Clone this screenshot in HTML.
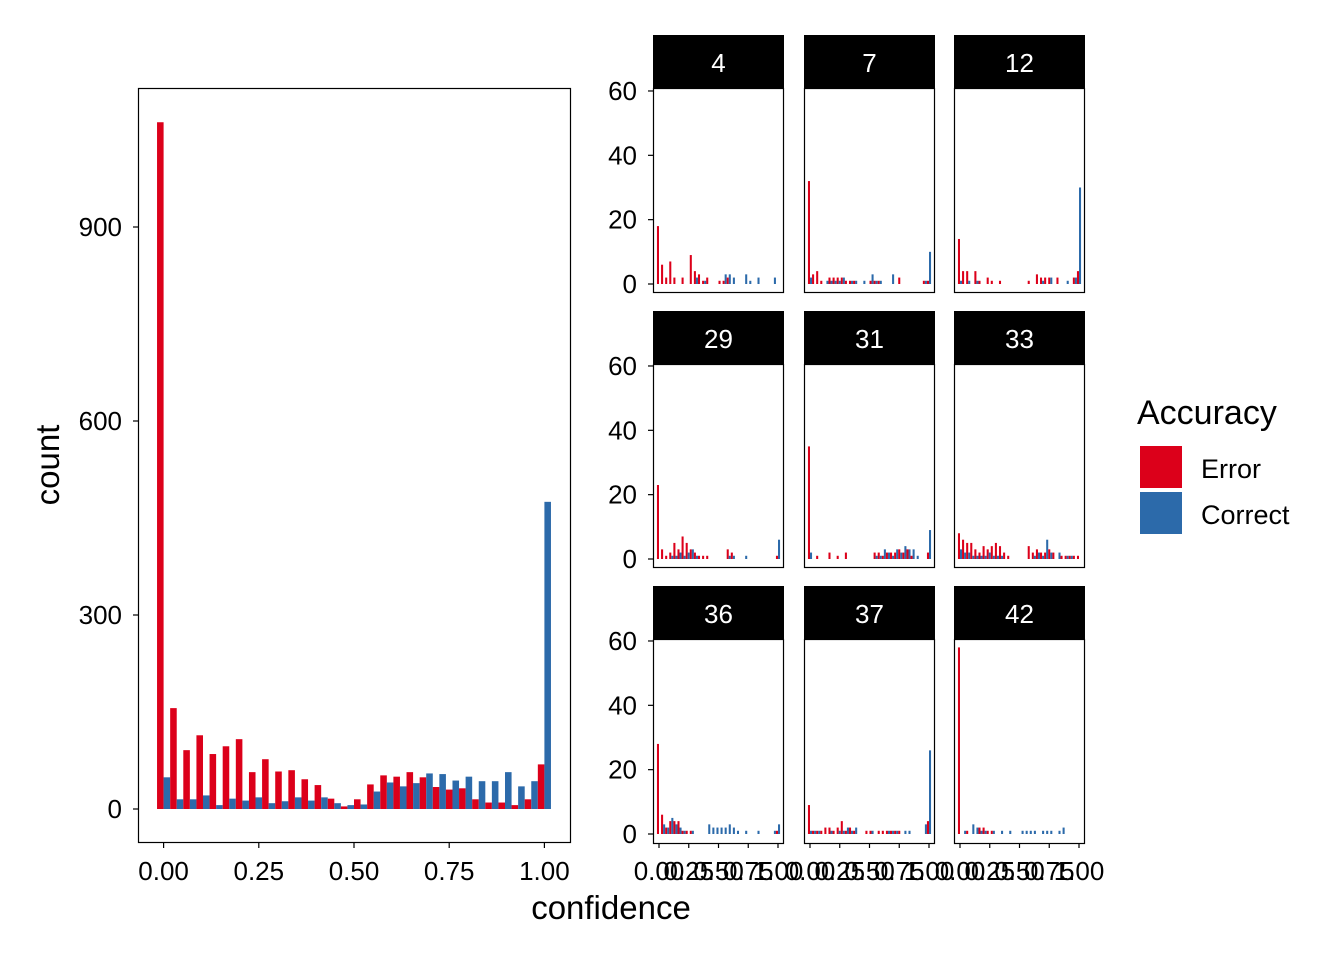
<!DOCTYPE html>
<html><head><meta charset="utf-8"><style>
html,body{margin:0;padding:0;background:#fff;}
svg{display:block;font-family:"Liberation Sans",Arial,sans-serif;}
</style></head><body>
<svg id="s" width="1344" height="960" viewBox="0 0 1344 960" xmlns="http://www.w3.org/2000/svg">
<rect width="1344" height="960" fill="#fff"/>
<g id="g"></g>
<text x="611" y="919" font-size="33" text-anchor="middle">confidence</text>
<text x="0" y="0" font-size="33" text-anchor="middle" transform="translate(59,465) rotate(-90)">count</text>
<text x="1137" y="424" font-size="34">Accuracy</text>
<rect x="1140" y="446" width="42" height="42" fill="#DC001A"/>
<rect x="1140" y="492" width="42" height="42" fill="#2C6AAA"/>
<text x="1201" y="478" font-size="27">Error</text>
<text x="1201" y="524" font-size="27">Correct</text>
</svg>
<script>
var NS="http://www.w3.org/2000/svg",g=document.getElementById('g');
function el(t,a,txt){var e=document.createElementNS(NS,t);for(var k in a)e.setAttribute(k,a[k]);if(txt!==undefined)e.textContent=txt;g.appendChild(e);return e;}
var R="#DC001A",B="#2C6AAA";
var red=[1062,156,91,114,85,97,108,57,77,58,60,46,37,16,4,15,38,52,50,57,49,34,30,32,15,10,10,6,15,69];
var blue=[49,15,15,21,6,16,13,18,9,12,18,13,18,9,6,7,27,41,35,40,55,54,44,50,43,43,57,35,43,475];
var x0=163.6,x1=544.4,bw=(x1-x0)/29,y0=809,sc=(809-227)/900;
for(var i=0;i<30;i++){var c=x0+i*bw;
 el('rect',{x:c-bw/2,y:y0-red[i]*sc,width:bw/2,height:red[i]*sc,fill:R});
 el('rect',{x:c,y:y0-blue[i]*sc,width:bw/2,height:blue[i]*sc,fill:B});}
el('rect',{x:138.5,y:88.5,width:432,height:754,fill:'none',stroke:'#000','stroke-width':1.2});
[0,300,600,900].forEach(function(v){var y=y0-v*sc;el('line',{x1:133,x2:138,y1:y,y2:y,stroke:'#000','stroke-width':1.2});
 el('text',{x:122,y:y+9,'font-size':26,'text-anchor':'end'},v);});
['0.00','0.25','0.50','0.75','1.00'].forEach(function(t,j){var x=x0+j*(x1-x0)/4;el('line',{x1:x,x2:x,y1:843,y2:848,stroke:'#000','stroke-width':1.2});
 el('text',{x:x,y:880,'font-size':26,'text-anchor':'middle'},t);});
var F=[
['4',[18,6,2,7,2,0,2,0,9,4,3,1,2,0,0,1,1,2,0,0,0,0,0,0,0,0,0,0,0,0],[0,0,0,0,0,0,0,0,0,2,0,1,0,0,0,0,3,3,2,0,0,3,1,0,2,0,0,0,2,0]],
['7',[32,3,4,1,0,2,2,2,2,1,1,1,0,0,0,1,1,1,0,0,0,0,2,0,0,0,0,0,1,1],[2,0,0,0,1,1,1,1,2,0,1,1,0,1,0,3,1,1,0,0,3,0,0,0,0,0,0,0,1,10]],
['12',[14,4,4,0,4,1,0,2,1,0,1,0,0,0,0,0,0,1,0,3,2,2,2,0,2,0,0,0,2,4],[1,0,1,0,1,0,0,0,0,0,0,0,0,0,0,0,0,0,0,0,1,0,2,0,0,0,1,0,2,30]],
['29',[23,3,1,2,5,3,7,5,3,2,1,1,1,0,0,0,0,3,2,0,0,0,0,0,0,0,0,0,0,1],[0,0,0,1,1,2,1,2,3,1,0,0,0,0,0,0,0,1,1,0,0,1,0,0,0,0,0,0,0,6]],
['31',[35,0,1,0,0,2,0,1,0,2,0,0,0,0,0,0,2,2,1,2,2,2,3,2,3,1,0,0,0,2],[2,0,0,0,0,0,0,0,0,0,0,0,0,0,0,0,1,1,3,2,1,3,2,4,3,3,1,0,0,9]],
['33',[8,6,5,5,3,2,4,3,4,5,4,2,1,0,0,0,0,4,2,3,2,2,3,2,0,1,1,1,1,1],[3,2,2,1,1,1,1,2,1,1,1,0,0,0,0,0,0,0,1,2,1,6,2,0,2,0,1,1,0,0]],
['36',[28,6,2,4,4,4,1,1,1,0,0,0,0,0,0,0,0,0,0,0,0,0,0,0,0,0,0,0,0,1],[0,3,2,5,3,2,1,0,1,0,0,0,3,2,2,2,2,3,2,1,0,1,0,0,1,0,0,0,1,3]],
['37',[9,1,1,1,2,2,1,2,4,1,2,1,0,0,1,1,0,1,1,1,1,1,1,0,0,0,0,0,0,4],[1,1,1,0,0,1,0,1,1,2,1,2,0,0,0,1,0,0,0,1,1,1,0,1,1,0,0,0,3,26]],
['42',[58,0,1,0,0,2,2,1,1,0,0,0,0,0,0,0,0,0,0,0,0,0,0,0,0,0,0,0,0,0],[0,1,0,3,2,1,1,0,1,0,1,0,1,0,0,1,1,1,1,0,1,1,1,0,1,2,0,0,0,0]]];
var cols=[653,804,954],rows=[35,311,586],pw=131,fs=3.217;
F.forEach(function(f,k){var c=k%3,r=Math.floor(k/3),px=cols[c],sy=rows[r],py=sy+53,ph=(r==1?203:204);
 var base=(r==0?284:(r==1?559:834));
 var fx0=px+6,fx1=px+pw-6,fb=(fx1-fx0)/29;
 for(var i=0;i<30;i++){var cc=fx0+i*fb;
  if(f[1][i])el('rect',{x:cc-fb/2,y:base-f[1][i]*fs,width:fb/2,height:f[1][i]*fs,fill:R});
  if(f[2][i])el('rect',{x:cc,y:base-f[2][i]*fs,width:fb/2,height:f[2][i]*fs,fill:B});}
 el('rect',{x:px,y:sy,width:pw,height:53,fill:'#000'});
 el('text',{x:px+pw/2,y:sy+37,'font-size':26,'text-anchor':'middle',fill:'#fff'},f[0]);
 el('rect',{x:px+0.5,y:py+0.5,width:pw-1,height:ph,fill:'none',stroke:'#000','stroke-width':1.2});
 if(c==0){[0,20,40,60].forEach(function(v){var y=base-v*fs;el('line',{x1:648,x2:653,y1:y,y2:y,stroke:'#000','stroke-width':1.2});
  el('text',{x:637,y:y+9,'font-size':26,'text-anchor':'end'},v);});}
 if(r==2){['0.00','0.25','0.50','0.75','1.00'].forEach(function(t,j){var x=fx0+j*(fx1-fx0)/4;el('line',{x1:x,x2:x,y1:843,y2:848,stroke:'#000','stroke-width':1.2});
  el('text',{x:x,y:880,'font-size':26,'text-anchor':'middle'},t);});}
});
</script>
</body></html>
